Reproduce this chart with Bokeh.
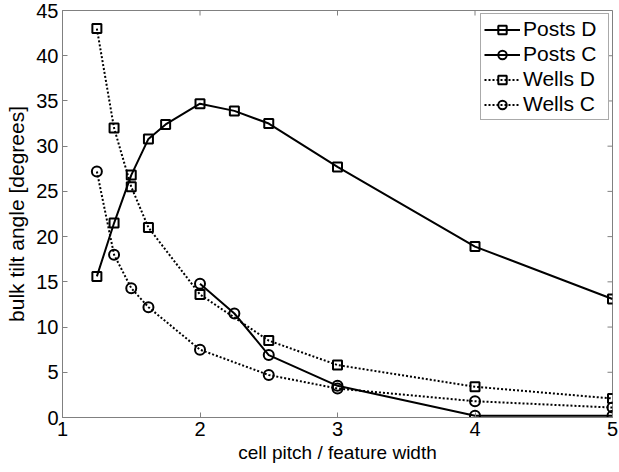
import math
from bokeh.plotting import figure
from bokeh.models import Range1d, Legend, LegendItem, FixedTicker
from bokeh.embed import file_html
from bokeh.resources import INLINE

# Data
posts_d_x = [1.25, 1.375, 1.5, 1.625, 1.75, 2.0, 2.25, 2.5, 3.0, 4.0, 5.0]
posts_d_y = [15.6, 21.5, 26.8, 30.8, 32.4, 34.7, 33.9, 32.5, 27.7, 18.9, 13.1]
posts_c_x = [2.0, 2.25, 2.5, 3.0, 4.0, 5.0]
posts_c_y = [14.8, 11.5, 6.9, 3.5, 0.2, 0.2]
wells_d_x = [1.25, 1.375, 1.5, 1.625, 2.0, 2.5, 3.0, 4.0, 5.0]
wells_d_y = [43.0, 32.0, 25.5, 21.0, 13.6, 8.5, 5.8, 3.4, 2.1]
wells_c_x = [1.25, 1.375, 1.5, 1.625, 2.0, 2.5, 3.0, 4.0, 5.0]
wells_c_y = [27.2, 18.0, 14.3, 12.2, 7.5, 4.7, 3.2, 1.8, 1.1]
x_ticks = [1, 2, 3, 4, 5]
y_ticks = [0, 5, 10, 15, 20, 25, 30, 35, 40, 45]
x_min, x_max = 1, 5
y_min, y_max = 0, 45

FONT = "Liberation Sans"
AXC = "#808080"

p = figure(width=619, height=472, output_backend="svg", toolbar_location=None,
           x_range=Range1d(x_min, x_max), y_range=Range1d(y_min, y_max),
           min_border_left=62, min_border_right=7, min_border_top=10, min_border_bottom=55)
p.grid.visible = False
p.outline_line_color = AXC
p.outline_line_width = 1

for ax in [p.xaxis[0], p.yaxis[0]]:
    ax.major_tick_in = 5
    ax.major_tick_out = 0
    ax.minor_tick_in = 0
    ax.minor_tick_out = 0
    ax.axis_line_color = AXC
    ax.major_tick_line_color = AXC
    ax.major_label_text_font = FONT
    ax.major_label_text_font_size = "20px"
    ax.major_label_text_color = "black"
    ax.axis_label_text_font = FONT
    ax.axis_label_text_font_style = "normal"
    ax.axis_label_text_color = "black"

p.xaxis.ticker = FixedTicker(ticks=x_ticks)
p.yaxis.ticker = FixedTicker(ticks=y_ticks)
p.xaxis.axis_label = "cell pitch / feature width"
p.yaxis.axis_label = "bulk tilt angle [degrees]"
p.xaxis.axis_label_text_font_size = "19px"
p.yaxis.axis_label_text_font_size = "21px"
p.xaxis.major_label_standoff = 4
p.yaxis.major_label_standoff = 4
p.xaxis.axis_label_standoff = 3
p.yaxis.axis_label_standoff = 5

# inward ticks on the right and top edges of the box
p.ray(x=[x_max] * len(y_ticks), y=y_ticks, length=5, length_units="screen",
      angle=math.pi, line_color=AXC, line_width=1)
p.ray(x=x_ticks, y=[y_max] * len(x_ticks), length=5, length_units="screen",
      angle=-math.pi / 2, line_color=AXC, line_width=1)

LW = 2
DOT = "2 2"

r1 = p.line(posts_d_x, posts_d_y, line_color="black", line_width=LW)
m1 = p.scatter(posts_d_x, posts_d_y, marker="square", size=9, fill_color=None,
               line_color="black", line_width=LW)
r2 = p.line(posts_c_x, posts_c_y, line_color="black", line_width=LW)
m2 = p.scatter(posts_c_x, posts_c_y, marker="circle", size=10, fill_color=None,
               line_color="black", line_width=LW)
r3 = p.line(wells_d_x, wells_d_y, line_color="black", line_width=LW, line_dash=DOT)
m3 = p.scatter(wells_d_x, wells_d_y, marker="square", size=9, fill_color=None,
               line_color="black", line_width=LW)
r4 = p.line(wells_c_x, wells_c_y, line_color="black", line_width=LW, line_dash=DOT)
m4 = p.scatter(wells_c_x, wells_c_y, marker="circle", size=10, fill_color=None,
               line_color="black", line_width=LW)

legend = Legend(items=[
    LegendItem(label="Posts D", renderers=[r1, m1]),
    LegendItem(label="Posts C", renderers=[r2, m2]),
    LegendItem(label="Wells D", renderers=[r3, m3]),
    LegendItem(label="Wells C", renderers=[r4, m4]),
], location="top_right")
legend.label_text_font = FONT
legend.label_text_font_size = "21px"
legend.label_text_color = "black"
legend.glyph_width = 36
legend.glyph_height = 21
legend.label_standoff = 3
legend.label_height = 21
legend.label_width = 82
legend.spacing = 1
legend.padding = 3
legend.margin = 3
legend.border_line_color = "#555555"
legend.border_line_width = 1
legend.background_fill_color = "white"
legend.background_fill_alpha = 1
p.add_layout(legend, "center")

open("out.html", "w").write(file_html(p, INLINE))
